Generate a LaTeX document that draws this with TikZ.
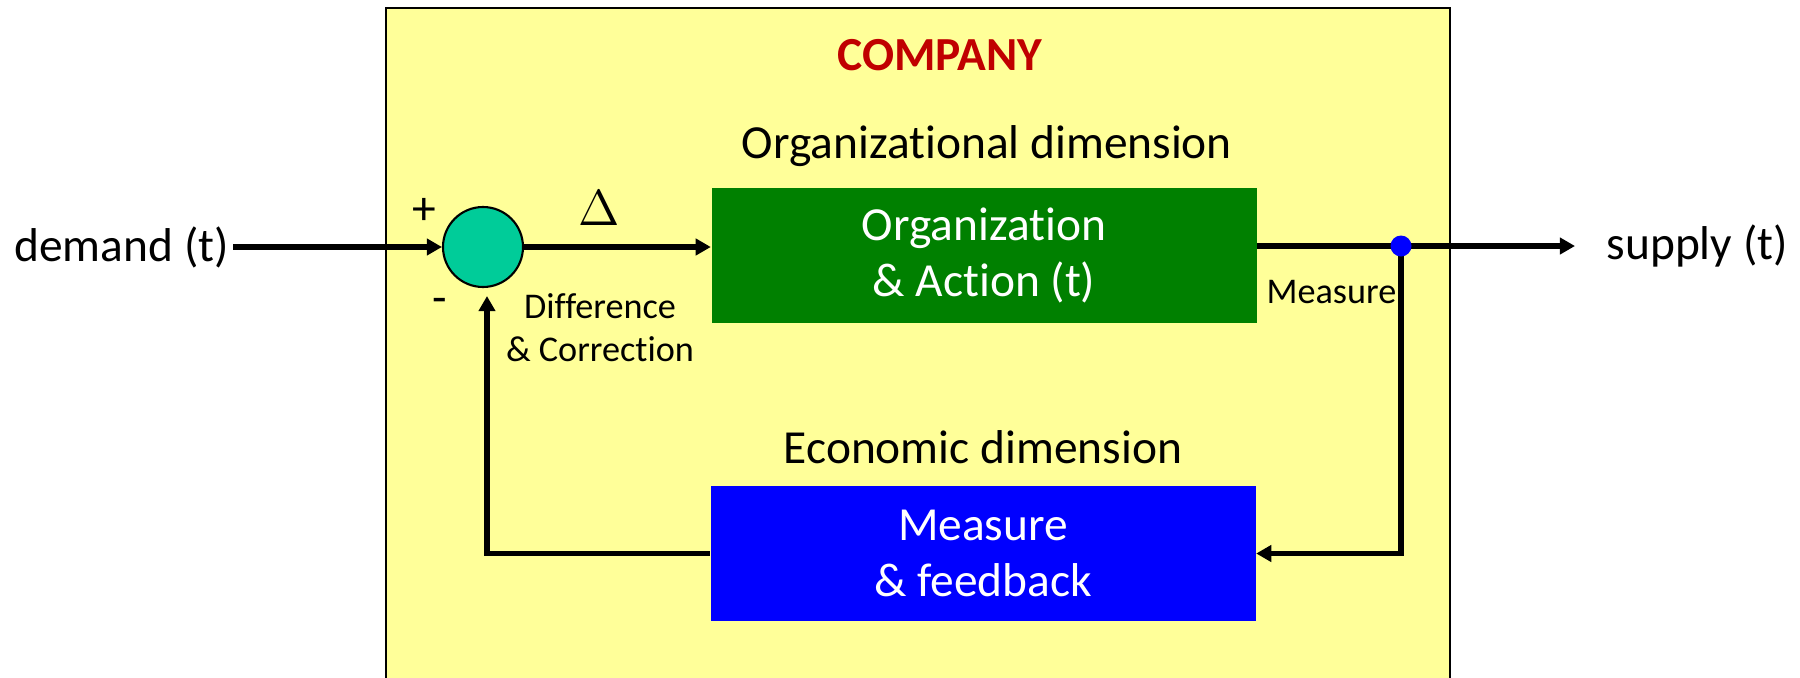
\documentclass[tikz,border=0pt]{standalone}
\usepackage{fontspec}
\setmainfont{Carlito}[Ligatures=NoCommon]
\definecolor{PaleYellow}{RGB}{255,255,153}
\definecolor{DarkRed}{RGB}{192,0,0}
\definecolor{OfficeGreen}{RGB}{0,128,0}
\definecolor{PureBlue}{RGB}{0,0,255}
\definecolor{SumTeal}{RGB}{0,204,153}
\usetikzlibrary{arrows.meta, positioning, calc}

\begin{document}
\begin{tikzpicture}[
	big/.style={font=\fontsize{13.5}{16}\selectfont},
	small/.style={font=\fontsize{10.3}{12.2}\selectfont},
	block/.style={rectangle, minimum width=5.45cm, minimum height=1.35cm, inner sep=0pt,
		text=white, align=center, font=\fontsize{13.5}{16}\selectfont},
	wire/.style={line width=1.5pt},
	flow/.style={line width=1.5pt, -{Triangle[length=4.3pt, width=4.6pt]}}]
	\useasboundingbox (0,0) rectangle (18,-6.78);
	% company frame, open at the bottom
	\fill[PaleYellow] (3.86,-0.08) rectangle (14.50,-6.78);
	\draw[line width=0.6pt] (3.86,-6.78) -- (3.86,-0.08) -- (14.50,-0.08) -- (14.50,-6.78);
	\node[font=\fontsize{13.5}{16}\selectfont\bfseries, text=DarkRed, anchor=base] (company) at (9.40,-0.70) {COMPANY};
	% forward branch
	\node[big, anchor=base] (orgdim) at (9.87,-1.58) {Organizational dimension};
	\node[block, fill=OfficeGreen] (org) at (9.84,-2.555) {Organization\\\& Action (t)};
	\node[circle, draw, line width=0.6pt, fill=SumTeal, minimum size=0.8cm, inner sep=0pt] (sum) at (4.83,-2.47) {};
	\node[big, anchor=east, inner sep=1pt] (demand) at (2.33,-2.47) {demand (t)};
	\node[big, anchor=west, inner sep=0pt] (supply) at (16.06,-2.46) {supply (t)};
	\node[big] (plus) at (4.24,-2.11) {+};
	\node[big] (minus) at (4.40,-3.06) {-};
	\node[font=\fontsize{14}{16}\selectfont] (delta) at (5.99,-2.085) {$\Delta$};
	\node[small, align=center, anchor=north, inner sep=0pt] (diff) at (6.00,-2.93) {Difference\\\& Correction};
	\coordinate (tap) at (14.01,-2.46);
	\draw[flow] (demand.east) -- (sum.west);
	\draw[flow] (sum.east) -- (sum.east -| org.west);
	\draw[wire] (org.east |- tap) -- (tap);
	\draw[flow, shorten >=0.31cm] (tap) -- (supply.west);
	\node[small, anchor=base east, inner sep=0pt] (meas) at (13.97,-3.03) {Measure};
	% feedback branch
	\node[big, anchor=base] (ecodim) at (9.83,-4.63) {Economic dimension};
	\node[block, fill=PureBlue] (fb) at (9.83,-5.535) {Measure\\\& feedback};
	\draw[flow] (tap) |- (fb.east);
	\draw[flow, shorten >=0.08cm] (fb.west) -| ($(sum.south)+(0.04,0)$);
	\fill[PureBlue] (tap) circle (0.105);
\end{tikzpicture}
\end{document}
